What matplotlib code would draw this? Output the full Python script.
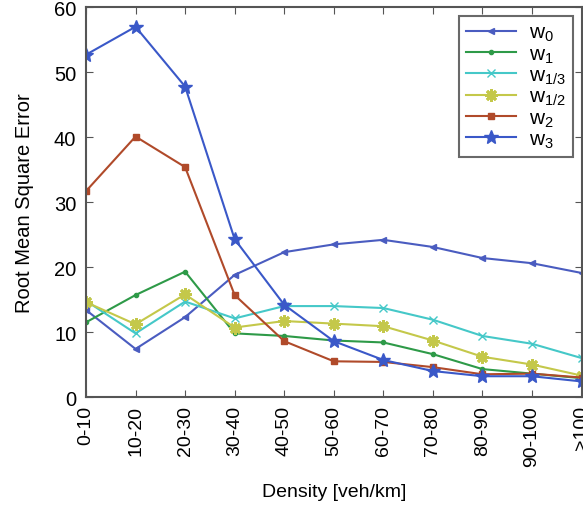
import matplotlib
matplotlib.use("Agg")
import matplotlib.pyplot as plt

plt.rcParams['font.family'] = ['Liberation Sans', 'DejaVu Sans']
plt.rcParams['mathtext.fontset'] = 'custom'
plt.rcParams['mathtext.rm'] = 'Liberation Sans'
plt.rcParams['mathtext.it'] = 'Liberation Sans'

categories = ['0-10', '10-20', '20-30', '30-40', '40-50', '50-60', '60-70',
              '70-80', '80-90', '90-100', '>100']

w0 = [13.4, 7.4, 12.3, 18.8, 22.3, 23.5, 24.2, 23.1, 21.4, 20.6, 19.1]
w1 = [11.5, 15.7, 19.3, 9.8, 9.4, 8.7, 8.4, 6.6, 4.3, 3.6, 2.9]
w13 = [14.8, 9.8, 14.7, 12.1, 14.0, 14.0, 13.7, 11.9, 9.4, 8.2, 6.0]
w12 = [14.6, 11.2, 15.8, 10.7, 11.7, 11.3, 10.9, 8.7, 6.2, 5.0, 3.3]
w2 = [31.7, 40.1, 35.4, 15.7, 8.6, 5.5, 5.4, 4.6, 3.5, 3.6, 3.0]
w3 = [52.7, 57.0, 47.8, 24.3, 14.2, 8.6, 5.7, 4.0, 3.2, 3.2, 2.4]

labels = [r'$\mathregular{w_0}$', r'$\mathregular{w_1}$', r'$\mathregular{w_{1/3}}$',
          r'$\mathregular{w_{1/2}}$', r'$\mathregular{w_2}$', r'$\mathregular{w_3}$']

fig = plt.figure(figsize=(5.83, 5.06), dpi=100)
ax = fig.add_axes([0.1475, 0.2134, 0.850, 0.7702])

x = list(range(len(categories)))
ax.plot(x, w0, color='#4a5cc0', marker='<', markersize=4, lw=1.5, label=labels[0])
ax.plot(x, w1, color='#2e9a48', marker='.', markersize=6, lw=1.5, label=labels[1])
ax.plot(x, w13, color='#45c8c8', marker='x', markersize=6, lw=1.5, label=labels[2])
ax.plot(x, w12, color='#c4c84a', marker=(8, 2, 0), markersize=9, mew=2, lw=1.5, label=labels[3])
ax.plot(x, w2, color='#b04a2a', marker='s', markersize=5, lw=1.5, label=labels[4])
ax.plot(x, w3, color='#3a58c8', marker='*', markersize=10, lw=1.5, label=labels[5])

ax.set_xlim(0, len(categories) - 1)
ax.set_ylim(0, 60)
ax.set_yticks([0, 10, 20, 30, 40, 50, 60])
ax.set_xticks(x)
ax.set_xticklabels(categories, rotation=90, fontsize=14)
ax.tick_params(axis='y', labelsize=14.5, pad=7)
ax.tick_params(axis='x', pad=6)
ax.tick_params(direction='in', top=True, right=True, length=5, color='#555555')
for s in ax.spines.values():
    s.set_color('#555555')
    s.set_linewidth(1.5)

ax.set_ylabel('Root Mean Square Error', fontsize=14.5, labelpad=14)
ax.set_xlabel('Density [veh/km]', fontsize=14, labelpad=12)

leg = ax.legend(loc='upper right', fontsize=15, frameon=True, fancybox=False,
                edgecolor='#444444', borderaxespad=0.4, handlelength=2.4,
                handletextpad=0.6, labelspacing=0.05, borderpad=0.35)
leg.get_frame().set_linewidth(1.5)

fig.savefig('out.png', dpi=100)
